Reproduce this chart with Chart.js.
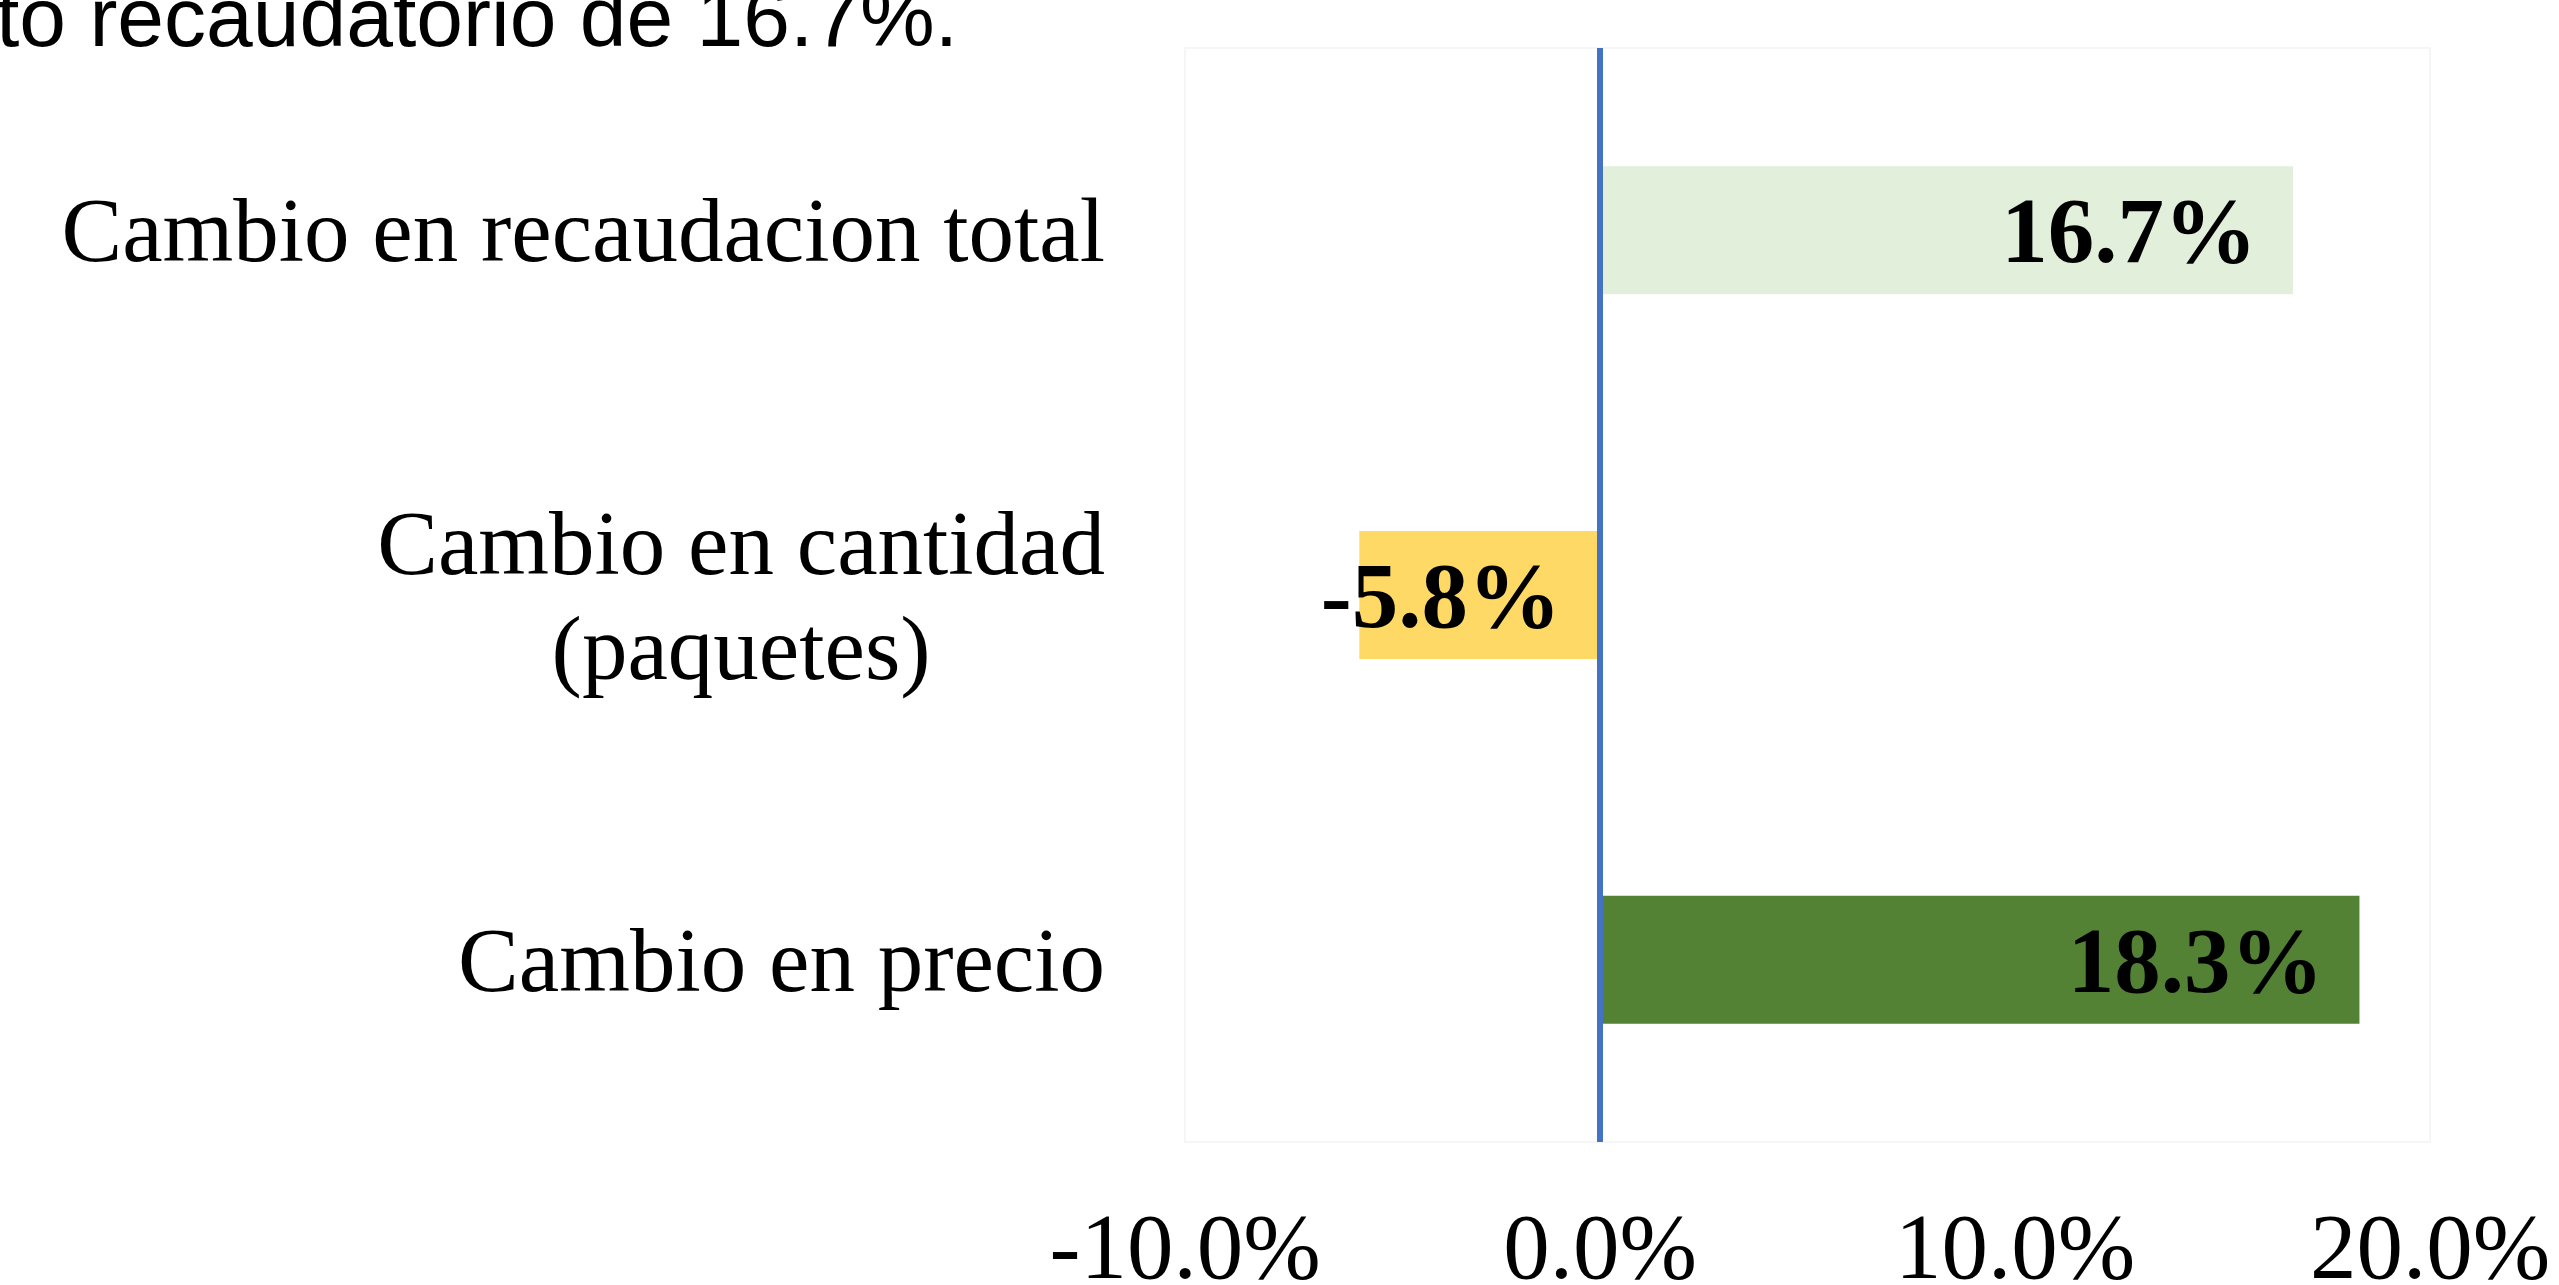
<!DOCTYPE html>
<html lang="es">
<head>
<meta charset="UTF-8">
<title>Cambio en recaudación</title>
<script src="https://cdn.jsdelivr.net/npm/chart.js"></script>
<style>
    html, body { margin: 0; padding: 0; background: #fff; overflow: hidden; }
    .wrap { position: relative; width: 2559px; height: 1285px; }
    .lead {
        position: absolute; left: -4px; top: -25px;
        font-family: "Liberation Sans", Arial, sans-serif;
        font-size: 84px; line-height: 84px; color: #000; white-space: nowrap;
    }
    canvas { position: absolute; left: 0; top: 0; }
</style>
</head>
<body>
<div class="wrap">
    <div class="lead">to recaudatorio de 16.7%.</div>
    <canvas id="chart" width="2559" height="1285"></canvas>
</div>
<script>
// datos del gráfico
const categories = ['Cambio en recaudacion total', ['Cambio en cantidad', '(paquetes)'], 'Cambio en precio'];
const changes = [16.7, -5.8, 18.3];
const xTicks = [-10, 0, 10, 20];

const serif = '"Liberation Serif", "Times New Roman", serif';

// etiquetas de categoría: bloque alineado a la derecha, líneas centradas
const categoryLabels = {
    id: 'categoryLabels',
    afterDraw(chart) {
        const ctx = chart.ctx;
        const yScale = chart.scales.y;
        const right = 1105;
        ctx.save();
        ctx.font = '91px ' + serif;
        ctx.fillStyle = '#000';
        ctx.textAlign = 'center';
        ctx.textBaseline = 'alphabetic';
        categories.forEach((label, i) => {
            const lines = Array.isArray(label) ? label : [label];
            const w = Math.max(...lines.map(l => ctx.measureText(l).width));
            const cx = right - w / 2;
            const cy = yScale.getPixelForValue(i);
            lines.forEach((line, j) => {
                ctx.fillText(line, cx, cy + 31 + (j - (lines.length - 1) / 2) * 105);
            });
        });
        ctx.restore();
    }
};

// valores dentro de las barras
const valueLabels = {
    id: 'valueLabels',
    afterDatasetsDraw(chart) {
        const ctx = chart.ctx;
        const meta = chart.getDatasetMeta(0);
        ctx.save();
        ctx.font = 'bold 93px ' + serif;
        ctx.fillStyle = '#000';
        ctx.textAlign = 'right';
        ctx.textBaseline = 'alphabetic';
        meta.data.forEach((bar, i) => {
            const edge = Math.max(bar.x, bar.base);
            ctx.fillText(changes[i].toFixed(1) + '%', edge - 36, bar.y + 32);
        });
        ctx.restore();
    }
};

// marco tenue del área de trazado
const plotFrame = {
    id: 'plotFrame',
    beforeDatasetsDraw(chart) {
        const a = chart.chartArea;
        const ctx = chart.ctx;
        ctx.save();
        ctx.strokeStyle = 'rgba(0,0,0,0.035)';
        ctx.lineWidth = 2;
        ctx.strokeRect(a.left, a.top, a.right - a.left, a.bottom - a.top);
        ctx.restore();
    }
};

new Chart(document.getElementById('chart'), {
    type: 'bar',
    data: {
        labels: categories,
        datasets: [{
            data: changes,
            backgroundColor: ['#E2EFDA', '#FFD966', '#548235'],
            borderWidth: 0,
            barPercentage: 0.351,
            categoryPercentage: 1
        }]
    },
    options: {
        indexAxis: 'y',
        responsive: false,
        animation: false,
        events: [],
        layout: { padding: { left: 0, right: 129, top: 48, bottom: 0 } },
        plugins: {
            legend: { display: false },
            tooltip: { enabled: false }
        },
        scales: {
            x: {
                min: xTicks[0],
                max: xTicks[xTicks.length - 1],
                afterBuildTicks: scale => { scale.ticks = xTicks.map(v => ({ value: v })); },
                afterFit: scale => {
                    scale.height = 143;
                    scale.paddingLeft = 0;
                    scale.paddingRight = 0;
                },
                border: { display: false },
                grid: {
                    z: 1,
                    drawTicks: false,
                    lineWidth: 6,
                    color: c => c.tick && c.tick.value === 0 ? '#4472C4' : 'rgba(0,0,0,0)'
                },
                ticks: {
                    padding: 56,
                    color: '#000',
                    font: { family: serif, size: 93 },
                    callback: v => v.toFixed(1) + '%'
                }
            },
            y: {
                afterFit: scale => { scale.width = 1185; },
                border: { display: false },
                grid: { display: false },
                ticks: { display: false }
            }
        }
    },
    plugins: [plotFrame, valueLabels, categoryLabels]
});
</script>
</body>
</html>
